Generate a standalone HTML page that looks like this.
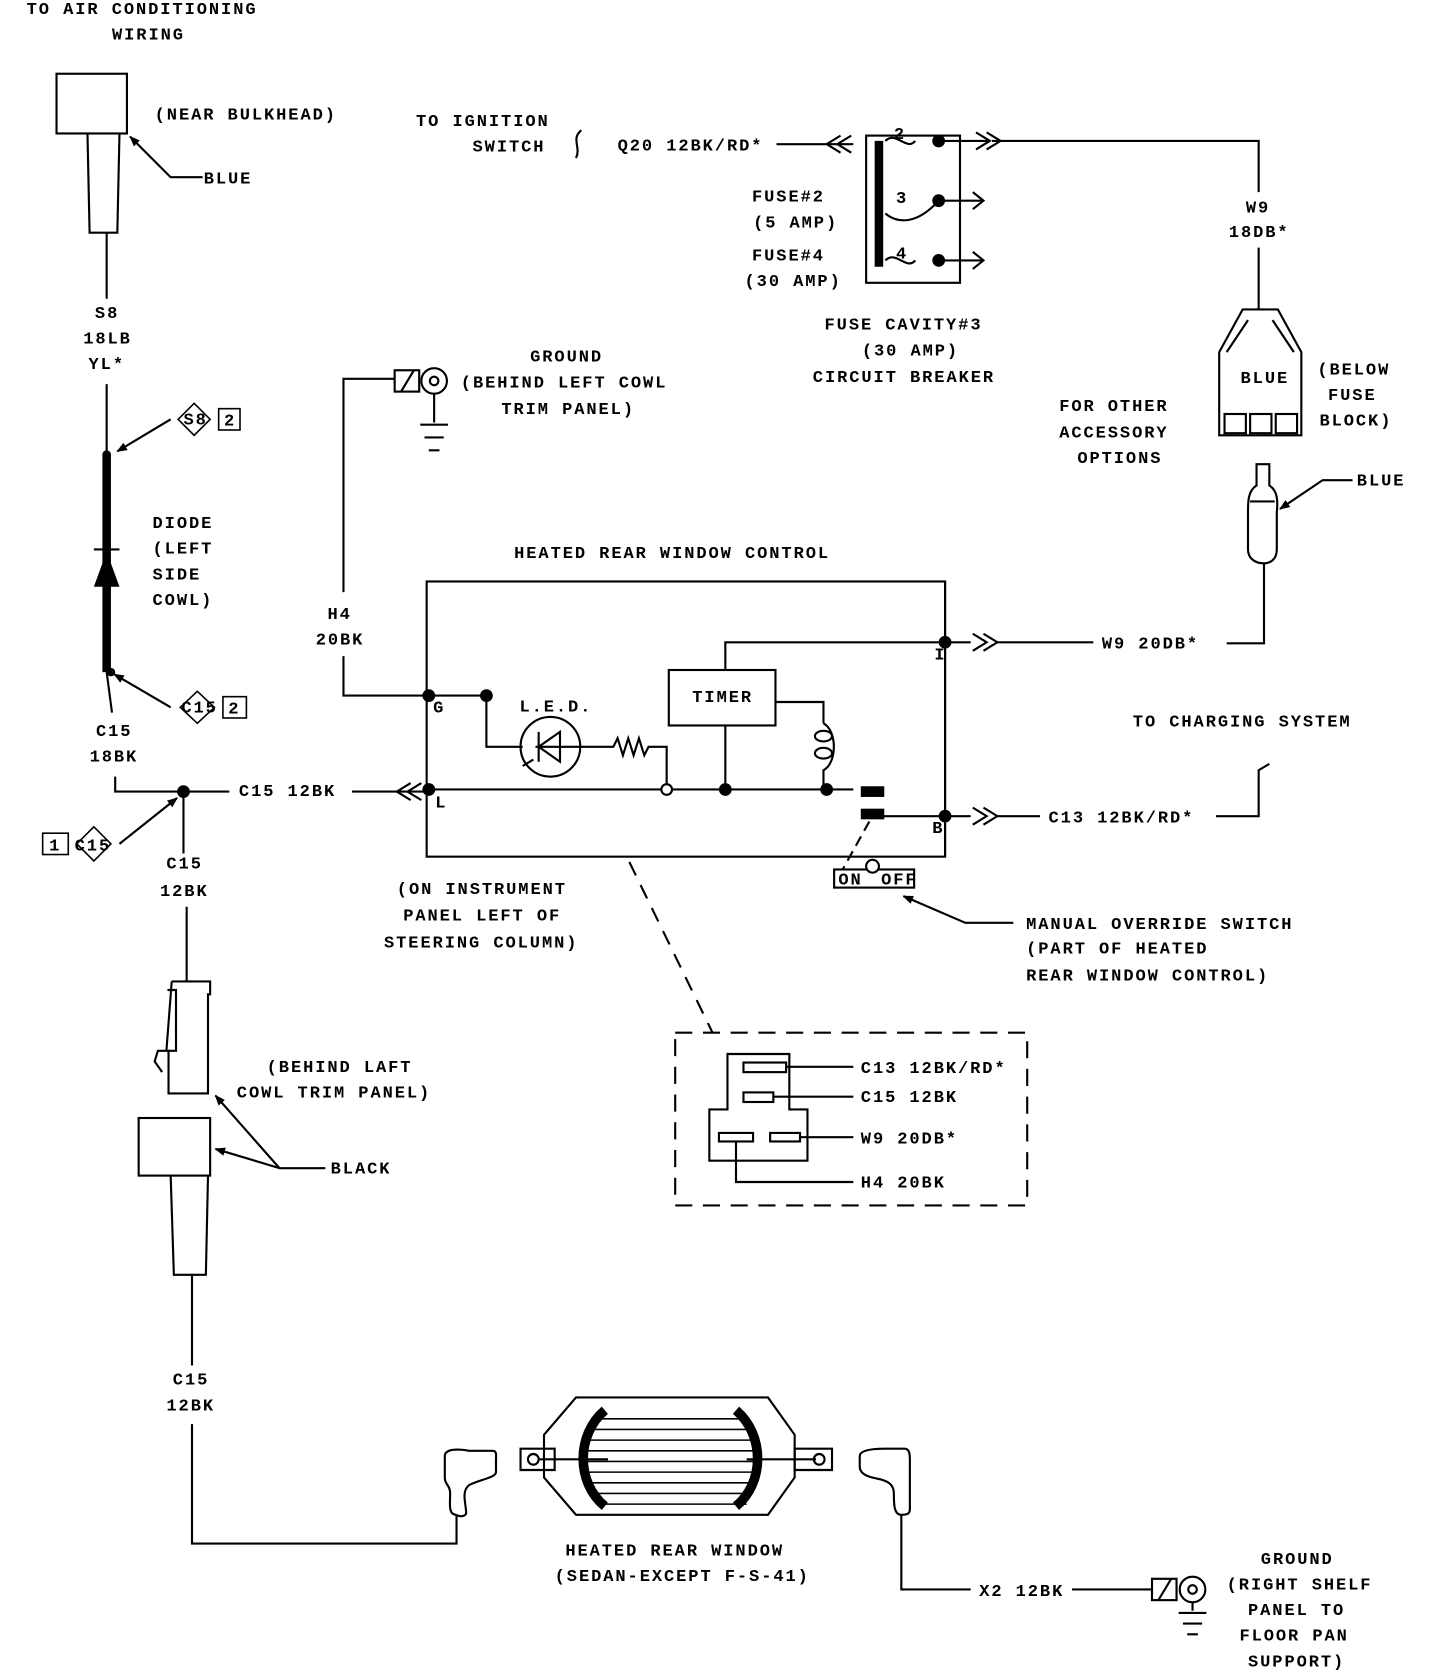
<!DOCTYPE html>
<html><head><meta charset="utf-8"><style>
html,body{margin:0;padding:0;background:#fff;}
svg{display:block}
text{font-family:"Liberation Mono",monospace;font-weight:bold;font-size:16px;letter-spacing:1.8px;fill:#000}
</style></head><body>
<svg width="1440" height="1676" viewBox="0 0 1350 1571" xmlns="http://www.w3.org/2000/svg">
<defs>
<marker id="ah" markerWidth="10" markerHeight="8" refX="9" refY="4" orient="auto" markerUnits="userSpaceOnUse"><path d="M0,0 L10,4 L0,8 Z" fill="#000"/></marker>
</defs>
<g fill="none" stroke="#000" stroke-width="2">
<rect x="53" y="69" width="66" height="56"/>
<path d="M82,125 L84,218 L110,218 L112,125"/>
<path d="M100,218 V280"/>
<path d="M190,166 H160 L122,128" marker-end="url(#ah)"/>
<path d="M100,360 V425"/>
<path d="M100,425 V630" stroke-width="8"/>
<path d="M88,515 H112"/>
<path d="M100,630 L105,668"/>
<path d="M160,393 L110,423" marker-end="url(#ah)"/>
<path d="M160,663 L107,632" marker-end="url(#ah)"/>
<path d="M182,378 L197,393 L182,408 L167,393 Z" stroke-width="1.5"/>
<rect x="205" y="383" width="20" height="20" stroke-width="1.5"/>
<path d="M185,648 L201,663 L185,678 L169,663 Z" stroke-width="1.5"/>
<rect x="209" y="653" width="22" height="20" stroke-width="1.5"/>
<path d="M88,775 L104,791 L88,807 L72,791 Z" stroke-width="1.5"/>
<rect x="40" y="781" width="24" height="20" stroke-width="1.5"/>
<path d="M112,791 L166,748" marker-end="url(#ah)"/>
<path d="M108,728 V742 H215"/>
<path d="M330,742 H402"/>
<path d="M385,734 L372,742 L385,750 M395,734 L382,742 L395,750"/>
<path d="M172,742 V800"/>
<path d="M175,850 V920"/>
<path d="M161,920 H197 V932 H195 V1025 H158 V985 H148 L145,995 L152,1005"/>
<path d="M161,920 L156,985"/>
<path d="M157,928 H165 V985 H158"/>
<rect x="130" y="1048" width="67" height="54"/>
<path d="M160,1102 L163,1195 L193,1195 L195,1102"/>
<path d="M180,1195 V1280"/>
<path d="M305,1095 H262 L202,1027" marker-end="url(#ah)"/>
<path d="M262,1095 L202,1077" marker-end="url(#ah)"/>
<path d="M180,1335 V1447 H428 V1420"/>
<path d="M428,1420 C420,1420 422,1410 422,1400 C422,1392 417,1392 417,1385 V1365 C417,1358 430,1358 440,1360 L462,1360 C466,1360 465,1365 465,1368 V1380 C465,1385 450,1387 440,1392 C432,1398 437,1410 437,1418 C437,1422 430,1422 428,1420"/>
<path d="M540,1310 H720 L745,1345 V1385 L720,1420 H540 L510,1385 V1345 Z"/>
<path d="M488,1358 H520 V1378 H488 Z"/>
<path d="M745,1358 H780 V1378 H745 Z"/>
<circle cx="500" cy="1368" r="5"/><circle cx="768" cy="1368" r="5"/>
<path d="M505,1368 H570 M700,1368 H765"/>
<g stroke-width="1.5">
<path d="M560,1330 H700 M555,1340 H705 M550,1350 H710 M548,1360 H712 M548,1370 H712 M548,1380 H712 M550,1390 H710 M555,1400 H705 M560,1410 H700"/>
</g>
<path d="M567,1322 C540,1345 540,1390 567,1412" stroke-width="9"/>
<path d="M690,1322 C717,1345 717,1390 690,1412" stroke-width="9"/>
<path d="M845,1420 C838,1420 838,1410 838,1400 C838,1392 833,1388 822,1386 C810,1384 806,1380 806,1375 V1365 C806,1360 815,1358 830,1358 H848 C852,1358 853,1362 853,1368 V1415 C853,1420 848,1420 845,1420"/>
<path d="M845,1420 V1490 H910"/>
<path d="M1005,1490 H1080"/>
<rect x="1080" y="1480" width="23" height="20"/>
<path d="M1086,1500 L1098,1480"/>
<circle cx="1118" cy="1490" r="12"/><circle cx="1118" cy="1490" r="4"/>
<path d="M1118,1502 V1510 M1105,1512 H1131 M1109,1522 H1127 M1113,1532 H1123"/>
<path d="M545,122 C535,130 545,138 540,148"/>
<path d="M728,135 H800"/>
<path d="M788,127 L775,135 L788,143 M798,127 L785,135 L798,143"/>
<rect x="812" y="127" width="88" height="138"/>
<path d="M824,132 V250" stroke-width="8"/>
<path d="M830,132 C840,122 850,142 858,132"/>
<path d="M830,244 C840,234 850,254 858,244"/>
<path d="M830,200 C842,210 860,210 880,188"/>
<path d="M880,132 H928"/><path d="M880,188 H922"/><path d="M880,244 H922"/>
<path d="M915,124 L928,132 L915,140 M925,124 L938,132 L925,140"/>
<path d="M912,180 L922,188 L912,196 M912,236 L922,244 L912,252"/>
<path d="M930,132 H1180 V180"/>
<path d="M1180,232 V290"/>
<path d="M1165,290 H1198 L1220,330 V408 H1143 V330 Z"/>
<path d="M1150,330 L1170,300 M1213,330 L1193,300"/>
<rect x="1148" y="388" width="20" height="18"/><rect x="1172" y="388" width="20" height="18"/><rect x="1196" y="388" width="20" height="18"/>
<path d="M1178,435 H1190 V455 C1198,460 1198,470 1197,480 V515 C1197,525 1190,528 1185,528 C1175,528 1170,522 1170,515 V480 C1170,470 1170,460 1178,455 Z"/>
<path d="M1172,470 H1195"/>
<path d="M1185,528 V603 H1150"/>
<path d="M1268,450 H1240 L1200,477" marker-end="url(#ah)"/>
<path d="M322,615 V652 H400"/>
<path d="M322,555 V355 H370"/>
<rect x="370" y="347" width="23" height="20"/>
<path d="M376,367 L388,347"/>
<circle cx="407" cy="357" r="12"/><circle cx="407" cy="357" r="4"/>
<path d="M407,369 V396 M394,398 H420 M398,410 H416 M402,422 H412"/>
<rect x="400" y="545" width="486" height="258"/>
<path d="M402,652 H456"/>
<path d="M456,652 V700 H490"/>
<circle cx="516" cy="700" r="28"/>
<path d="M502,700 H540 M525,686 L505,700 L525,714 Z M505,686 V714"/>
<path d="M490,718 L500,712"/>
<path d="M540,700 H575 L579,692 L584,708 L589,692 L594,708 L599,692 L604,708 L608,700 H625 V735"/>
<circle cx="625" cy="740" r="5"/>
<path d="M402,740 H620 M630,740 H800"/>
<rect x="627" y="628" width="100" height="52"/>
<path d="M680,628 V602 H910"/>
<path d="M680,680 V740"/>
<path d="M727,658 H772 V678"/>
<ellipse cx="772" cy="690" rx="8" ry="5"/><ellipse cx="772" cy="706" rx="8" ry="5"/>
<path d="M772,678 C785,685 785,715 772,722 V740"/>
<path d="M886,545 V803"/>
<path d="M828,765 H910"/>
<path d="M912,594 L925,602 L912,610 M922,594 L935,602 L922,610"/>
<path d="M935,602 H1025"/>
<path d="M912,757 L925,765 L912,773 M922,757 L935,765 L922,773"/>
<path d="M935,765 H975"/>
<path d="M1140,765 H1180 V722 L1190,716"/>
<path d="M815,770 L790,815" stroke-dasharray="10,6"/>
<rect x="782" y="815" width="75" height="17"/>
<circle cx="818" cy="812" r="6" fill="#fff"/>
<path d="M950,865 H905 L847,840" marker-end="url(#ah)"/>
<path d="M590,808 L668,968" stroke-dasharray="14,10"/>
<rect x="633" y="968" width="330" height="162" stroke-dasharray="16,10"/>
<path d="M682,988 H740 V1040 H757 V1088 H665 V1040 H682 Z"/>
<rect x="697" y="996" width="40" height="9"/><rect x="697" y="1024" width="28" height="9"/>
<rect x="674" y="1062" width="32" height="8"/><rect x="722" y="1062" width="28" height="8"/>
<path d="M737,1000 H800 M725,1028 H800 M750,1066 H800 M690,1070 V1108 H800"/>
</g>
<g fill="#000">
<path d="M100,517 L88,550 L112,550 Z"/>
<circle cx="100" cy="426" r="4"/><circle cx="104" cy="630" r="4"/>
<circle cx="172" cy="742" r="6"/>
<circle cx="402" cy="652" r="6"/><circle cx="456" cy="652" r="6"/><circle cx="402" cy="740" r="6"/>
<circle cx="680" cy="740" r="6"/><circle cx="775" cy="740" r="6"/>
<circle cx="886" cy="602" r="6"/><circle cx="886" cy="765" r="6"/>
<circle cx="880" cy="132" r="6"/><circle cx="880" cy="188" r="6"/><circle cx="880" cy="244" r="6"/>
<rect x="807" y="737" width="22" height="10"/><rect x="807" y="758" width="22" height="10"/>
</g>
<text x="25" y="13">TO AIR CONDITIONING</text>
<text x="105" y="37">WIRING</text>
<text x="145" y="112">(NEAR BULKHEAD)</text>
<text x="191" y="172">BLUE</text>
<text x="89" y="298">S8</text>
<text x="78" y="322">18LB</text>
<text x="83" y="346">YL*</text>
<text x="172" y="398" font-size="13">S8</text>
<text x="210" y="399" font-size="13">2</text>
<text x="143" y="495">DIODE</text>
<text x="143" y="519">(LEFT</text>
<text x="143" y="543">SIDE</text>
<text x="143" y="567">COWL)</text>
<text x="170" y="668" font-size="13">C15</text>
<text x="214" y="669" font-size="13">2</text>
<text x="90" y="690">C15</text>
<text x="84" y="714">18BK</text>
<text x="224" y="746">C15 12BK</text>
<text x="46" y="797" font-size="13">1</text>
<text x="70" y="797" font-size="13">C15</text>
<text x="156" y="814">C15</text>
<text x="150" y="840">12BK</text>
<text x="250" y="1005">(BEHIND LAFT</text>
<text x="222" y="1029">COWL TRIM PANEL)</text>
<text x="310" y="1100" font-family="Liberation Sans">BLACK</text>
<text x="162" y="1298">C15</text>
<text x="156" y="1322">12BK</text>
<text x="530" y="1458">HEATED REAR WINDOW</text>
<text x="520" y="1482">(SEDAN-EXCEPT F-S-41)</text>
<text x="918" y="1496">X2 12BK</text>
<text x="1182" y="1466">GROUND</text>
<text x="1150" y="1490">(RIGHT SHELF</text>
<text x="1170" y="1514">PANEL TO</text>
<text x="1162" y="1538">FLOOR PAN</text>
<text x="1170" y="1562">SUPPORT)</text>
<text x="390" y="118">TO IGNITION</text>
<text x="443" y="142">SWITCH</text>
<text x="579" y="141">Q20 12BK/RD*</text>
<text x="838" y="130" font-size="13">2</text>
<text x="840" y="190" font-size="13">3</text>
<text x="840" y="242" font-size="12">4</text>
<text x="705" y="189">FUSE#2</text>
<text x="706" y="213">(5 AMP)</text>
<text x="705" y="244">FUSE#4</text>
<text x="698" y="268">(30 AMP)</text>
<text x="773" y="309">FUSE CAVITY#3</text>
<text x="808" y="333">(30 AMP)</text>
<text x="762" y="358">CIRCUIT BREAKER</text>
<text x="1168" y="199">W9</text>
<text x="1152" y="222">18DB*</text>
<text x="1163" y="359">BLUE</text>
<text x="1235" y="351">(BELOW</text>
<text x="1245" y="375">FUSE</text>
<text x="1237" y="399">BLOCK)</text>
<text x="993" y="385">FOR OTHER</text>
<text x="993" y="410">ACCESSORY</text>
<text x="1010" y="434">OPTIONS</text>
<text x="1272" y="455" font-family="Liberation Sans">BLUE</text>
<text x="497" y="339">GROUND</text>
<text x="432" y="363">(BEHIND LEFT COWL</text>
<text x="470" y="388">TRIM PANEL)</text>
<text x="307" y="580">H4</text>
<text x="296" y="604">20BK</text>
<text x="482" y="523">HEATED REAR WINDOW CONTROL</text>
<text x="406" y="668" font-size="13">G</text>
<text x="408" y="757" font-size="13">L</text>
<text x="876" y="618" font-size="13">I</text>
<text x="874" y="781" font-size="13">B</text>
<text x="487" y="667">L.E.D.</text>
<text x="649" y="658">TIMER</text>
<text x="1033" y="608">W9 20DB*</text>
<text x="1062" y="681">TO CHARGING SYSTEM</text>
<text x="983" y="771">C13 12BK/RD*</text>
<text x="786" y="829" font-size="13" letter-spacing="1">ON</text>
<text x="826" y="829" font-size="13" letter-spacing="1">OFF</text>
<text x="962" y="871">MANUAL OVERRIDE SWITCH</text>
<text x="962" y="894">(PART OF HEATED</text>
<text x="962" y="919">REAR WINDOW CONTROL)</text>
<text x="372" y="838">(ON INSTRUMENT</text>
<text x="378" y="863">PANEL LEFT OF</text>
<text x="360" y="888">STEERING COLUMN)</text>
<text x="807" y="1006">C13 12BK/RD*</text>
<text x="807" y="1033">C15 12BK</text>
<text x="807" y="1072">W9 20DB*</text>
<text x="807" y="1113">H4 20BK</text>
</svg>
</body></html>
